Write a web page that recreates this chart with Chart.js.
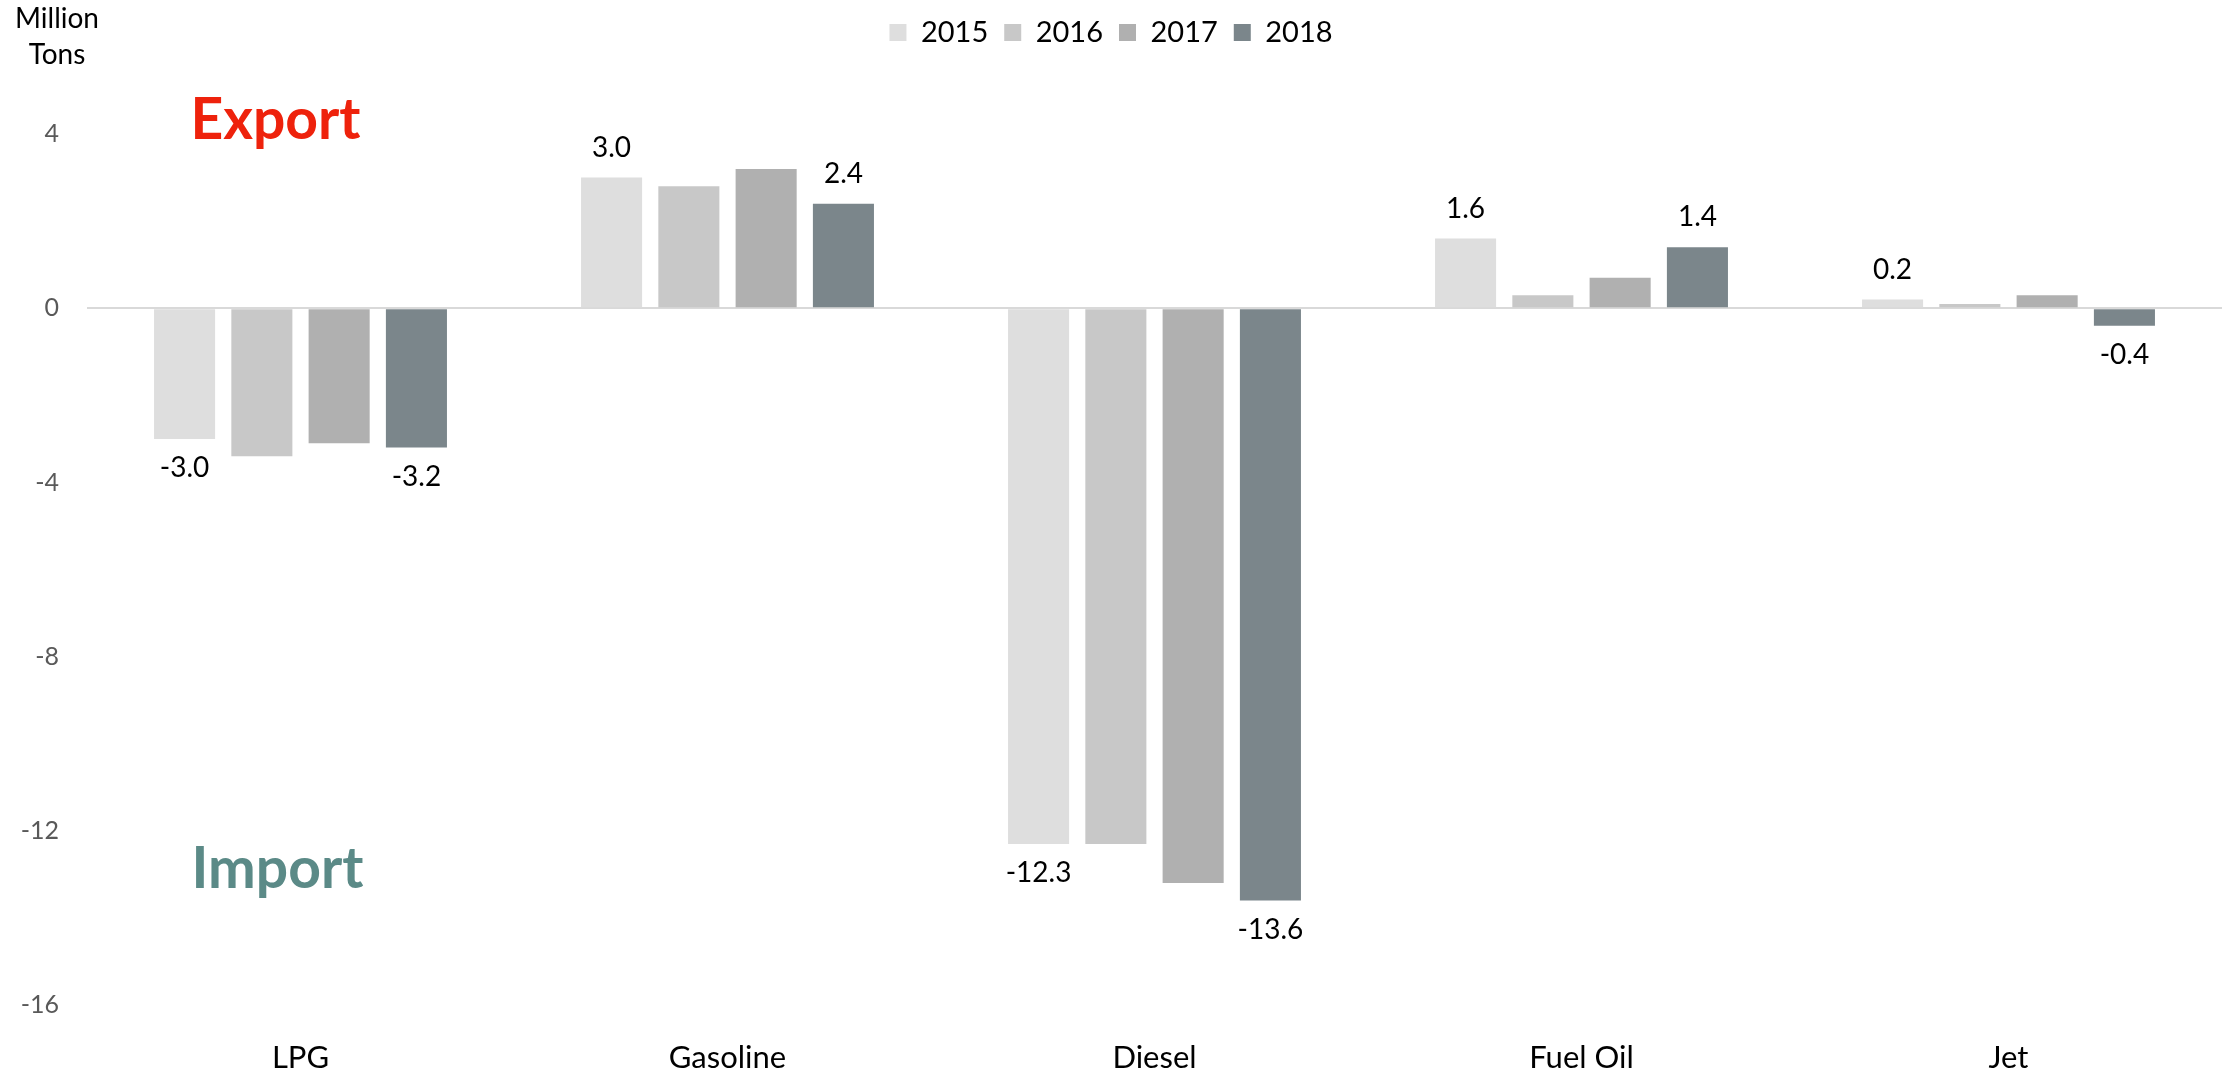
<!DOCTYPE html>
<html>
<head>
<meta charset="utf-8">
<script src="https://cdn.jsdelivr.net/npm/chart.js@4.4.1/dist/chart.umd.min.js"></script>
<style>
    body { margin: 0; background: #fff; }
    #wrap { width: 2234px; height: 1073px; }
</style>
</head>
<body>
<div id="wrap"><canvas id="balanceChart" width="2234" height="1073"></canvas></div>
<script>
const categories = ['LPG', 'Gasoline', 'Diesel', 'Fuel Oil', 'Jet'];
const years = ['2015', '2016', '2017', '2018'];
const values2015 = [-3.0, 3.0, -12.3, 1.6, 0.2];
const values2016 = [-3.4, 2.8, -12.3, 0.3, 0.1];
const values2017 = [-3.1, 3.2, -13.2, 0.7, 0.3];
const values2018 = [-3.2, 2.4, -13.6, 1.4, -0.4];
const yTicks = [-16, -12, -8, -4, 0, 4];
const labelledSeries = [0, 3];

const colors = ['#dedede', '#c8c8c8', '#b0b0b0', '#7b868b'];
const FONT = 'Lato, "Open Sans", sans-serif';

// data labels + the Export / Import notes
const notesPlugin = {
    id: 'notes',
    afterDatasetsDraw(chart) {
        const ctx = chart.ctx;
        const x = chart.scales.x;
        const y = chart.scales.y;
        ctx.save();
        ctx.textAlign = 'center';
        ctx.textBaseline = 'middle';
        ctx.fillStyle = '#000';
        ctx.font = '28px ' + FONT;
        labelledSeries.forEach(function(di) {
            const meta = chart.getDatasetMeta(di);
            meta.data.forEach(function(bar, i) {
                const v = chart.data.datasets[di].data[i];
                const ty = v >= 0 ? bar.y - 30 : bar.y + 29;
                ctx.fillText(v.toFixed(1), bar.x, ty);
            });
        });

        ctx.font = 'bold 57px ' + FONT;
        ctx.fillStyle = '#ee220c';
        ctx.fillText('Export', x.getPixelForValue(0) - 25, y.getPixelForValue(4.3));
        ctx.fillStyle = '#5b8a87';
        ctx.fillText('Import', x.getPixelForValue(0) - 23, y.getPixelForValue(-12.9));

        ctx.fillStyle = '#000';
        ctx.font = '28px ' + FONT;
        ctx.fillText('Million', 57, 19);
        ctx.fillText('Tons', 57, 55);
        ctx.restore();
    }
};

const ctx = document.getElementById('balanceChart').getContext('2d');
new Chart(ctx, {
    type: 'bar',
    data: {
        labels: categories,
        datasets: [values2015, values2016, values2017, values2018].map(function(vals, i) {
            return {
                label: years[i],
                data: vals,
                backgroundColor: colors[i],
                borderWidth: 0,
                categoryPercentage: 0.724,
                barPercentage: 0.79
            };
        })
    },
    options: {
        responsive: false,
        animation: false,
        devicePixelRatio: 1,
        layout: { padding: { top: 2, right: 12, bottom: 0, left: 0 } },
        plugins: {
            legend: {
                position: 'top',
                labels: {
                    boxWidth: 17,
                    boxHeight: 17,
                    padding: 16,
                    color: '#000',
                    font: { family: FONT, size: 29 }
                }
            },
            tooltip: { enabled: false }
        },
        scales: {
            x: {
                grid: { display: false },
                border: { display: false },
                ticks: {
                    color: '#000',
                    padding: 26,
                    font: { family: FONT, size: 31 }
                },
                afterFit: function(scale) { scale.height = 68; }
            },
            y: {
                min: -16,
                max: 5.77,
                afterBuildTicks: function(scale) {
                    scale.ticks = yTicks.map(function(v) { return { value: v }; });
                },
                grid: {
                    drawTicks: false,
                    lineWidth: 2,
                    color: function(c) { return c.tick && c.tick.value === 0 ? '#d9d9d9' : 'rgba(0,0,0,0)'; }
                },
                border: { display: false },
                ticks: {
                    color: '#595959',
                    padding: 28,
                    font: { family: FONT, size: 25 }
                },
                afterFit: function(scale) { scale.width = 87; }
            }
        }
    },
    plugins: [notesPlugin]
});
</script>
</body>
</html>
